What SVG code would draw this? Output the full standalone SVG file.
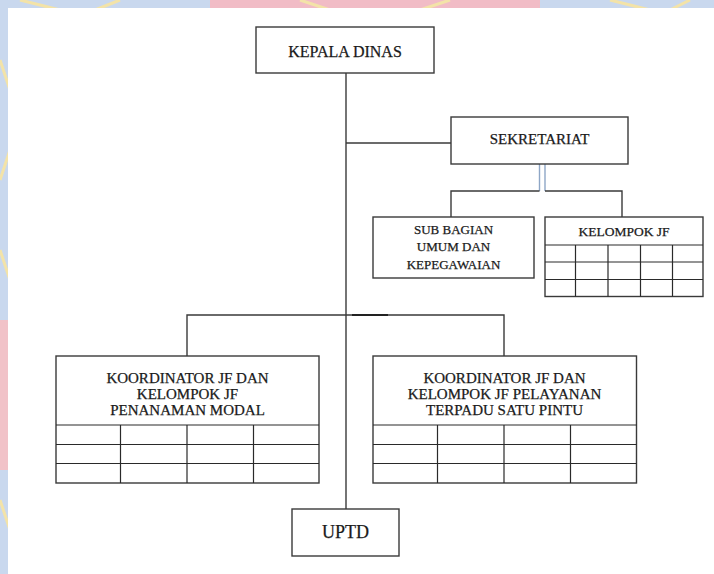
<svg xmlns="http://www.w3.org/2000/svg" width="714" height="574" viewBox="0 0 714 574">
  <defs>
    <style>
      .box { fill: #ffffff; stroke: #3a3a3a; stroke-width: 1.4; }
      .grid { fill: none; stroke: #2a2a2a; stroke-width: 1.2; }
      .conn { fill: none; stroke: #3a3a3a; stroke-width: 1.4; }
      .blue { fill: none; stroke: #8ea6c6; stroke-width: 1.4; }
      .t { font-family: "Liberation Serif", "Times New Roman", serif; fill: #1a1a1a; stroke: #1a1a1a; stroke-width: 0.25; text-anchor: middle; dominant-baseline: central; }
    </style>
  </defs>

  <!-- watermark background -->
  <g id="background">
    <rect x="0" y="0" width="714" height="574" fill="#c9d8ee"/>
    <rect x="210" y="0" width="330" height="10" fill="#f1bcc6"/>
    <rect x="0" y="320" width="10" height="150" fill="#f1c2c8"/>
    <path d="M20 0 L60 10 M120 0 L95 10 M300 0 L330 10 M450 0 L420 10 M610 0 L650 10 M690 0 L670 10" stroke="#f3e3a8" stroke-width="3" fill="none"/>
    <path d="M0 60 L10 90 M0 180 L10 150 M0 250 L10 280 M0 500 L10 530" stroke="#f3e3a8" stroke-width="3" fill="none"/>
    <rect x="8" y="8" width="706" height="566" fill="#ffffff"/>
  </g>

  <g id="connectors">
    <line class="conn" x1="346" y1="73" x2="346" y2="509"/>
    <line class="conn" x1="346" y1="143" x2="451" y2="143"/>
    <line class="blue" x1="539.5" y1="164" x2="539.5" y2="191"/>
    <line class="blue" x1="545" y1="164" x2="545" y2="191"/>
    <polyline class="conn" points="539.5,191 451,191 451,217"/>
    <polyline class="conn" points="545,191 622,191 622,217"/>
    <polyline class="conn" points="187,356 187,315 504,315 504,356"/>
    <line x1="352" y1="315" x2="388" y2="315" stroke="#222" stroke-width="1.8"/>
  </g>

  <g id="kepala-dinas">
    <rect class="box" x="256" y="27" width="178" height="46"/>
    <text class="t" x="345" y="51" font-size="16">KEPALA DINAS</text>
  </g>

  <g id="sekretariat">
    <rect class="box" x="451" y="117" width="177" height="47"/>
    <text class="t" x="539.5" y="139" font-size="15">SEKRETARIAT</text>
  </g>

  <g id="sub-bagian">
    <rect class="box" x="373" y="217" width="161" height="61"/>
    <text class="t" x="453.5" y="229.5" font-size="13">SUB BAGIAN</text>
    <text class="t" x="453.5" y="246.5" font-size="13">UMUM DAN</text>
    <text class="t" x="453.5" y="264" font-size="13">KEPEGAWAIAN</text>
  </g>

  <g id="kelompok-jf">
    <rect class="box" x="545" y="217" width="158" height="79.5"/>
    <text class="t" x="624" y="231.5" font-size="13.5">KELOMPOK JF</text>
    <path class="grid" d="M545 245 H703 M545 262 H703 M545 279.5 H703 M575.5 245 V296.5 M608 245 V296.5 M640.5 245 V296.5 M672.5 245 V296.5"/>
  </g>

  <g id="koordinator-pm">
    <rect class="box" x="56" y="356" width="263" height="127"/>
    <text class="t" x="187.5" y="377.5" font-size="15">KOORDINATOR JF DAN</text>
    <text class="t" x="187.5" y="393.5" font-size="15">KELOMPOK JF</text>
    <text class="t" x="187.5" y="410" font-size="15">PENANAMAN MODAL</text>
    <path class="grid" d="M56 425 H319 M56 444.5 H319 M56 463.5 H319 M120.5 425 V483 M187 425 V483 M253.5 425 V483"/>
  </g>

  <g id="koordinator-ptsp">
    <rect class="box" x="373" y="356" width="263.5" height="127"/>
    <text class="t" x="504.5" y="377.5" font-size="15">KOORDINATOR JF DAN</text>
    <text class="t" x="504.5" y="393.5" font-size="15">KELOMPOK JF PELAYANAN</text>
    <text class="t" x="504.5" y="410" font-size="15">TERPADU SATU PINTU</text>
    <path class="grid" d="M373 425 H636.5 M373 444.5 H636.5 M373 463.5 H636.5 M437.5 425 V483 M504 425 V483 M570.5 425 V483"/>
  </g>

  <g id="uptd">
    <rect class="box" x="292" y="509" width="107" height="47"/>
    <text class="t" x="345.5" y="532" font-size="18">UPTD</text>
  </g>
</svg>
